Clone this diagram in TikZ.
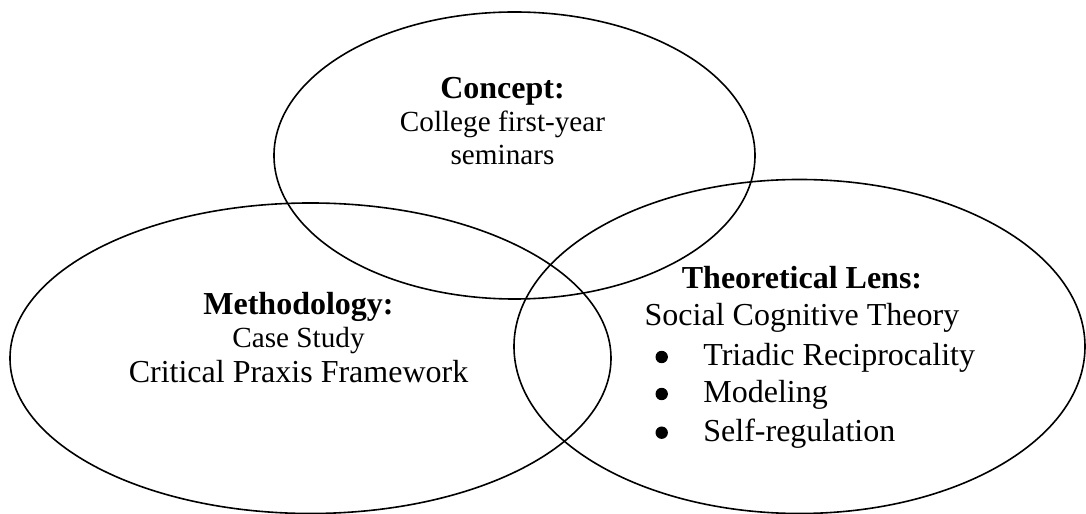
\documentclass[tikz,border=0pt]{standalone}
\usepackage{fontspec}
\setmainfont{Liberation Serif}
\usetikzlibrary{shapes.geometric}
\tikzset{
  venn/.style={draw, ellipse, line width=0.8bp, inner sep=0pt},
  head/.style={anchor=base, inner sep=0pt, font=\fontsize{16bp}{19bp}\selectfont\bfseries},
  bodybig/.style={anchor=base, inner sep=0pt, font=\fontsize{16bp}{19bp}\selectfont},
  bodysmall/.style={anchor=base, inner sep=0pt, font=\fontsize{14.6bp}{17bp}\selectfont},
  item/.style={anchor=base west, inner sep=0pt, font=\fontsize{16bp}{19bp}\selectfont},
  bulletdot/.style={circle, fill=black, inner sep=0pt, minimum size=6.2bp}
}
\begin{document}
\begin{tikzpicture}[x=0.5bp, y=-0.5bp]
\useasboundingbox (0,0) rectangle (1086,514);
% ellipses
\node[venn, minimum width=240.5bp, minimum height=143.5bp] (concept) at (514.5,155.5) {};
\node[venn, minimum width=300.5bp, minimum height=155.25bp] (method) at (310.5,358.25) {};
\node[venn, minimum width=285.5bp, minimum height=167bp] (theory) at (799.5,346.5) {};
% top text
\node[head] (t1) at (502.5,99) {Concept:};
\node[bodysmall] (t2) at (502.5,132) {College first-year};
\node[bodysmall] (t3) at (502.5,165) {seminars};
% left text
\node[head] (m1) at (298.5,315) {Methodology:};
\node[bodysmall] (m2) at (298.5,348) {Case Study};
\node[bodybig] (m3) at (298.5,383) {Critical Praxis Framework};
% right text
\node[head] (r1) at (802,289) {Theoretical Lens:};
\node[bodybig] (r2) at (802,326) {Social Cognitive Theory};
\node[bulletdot] (b1) at (661.7,357) {};
\node[bulletdot] (b2) at (661.7,394) {};
\node[bulletdot] (b3) at (661.7,432.7) {};
\node[item] (i1) at (703,366) {Triadic Reciprocality};
\node[item] (i2) at (703,403) {Modeling};
\node[item] (i3) at (703,441.7) {Self-regulation};
\end{tikzpicture}
\end{document}
